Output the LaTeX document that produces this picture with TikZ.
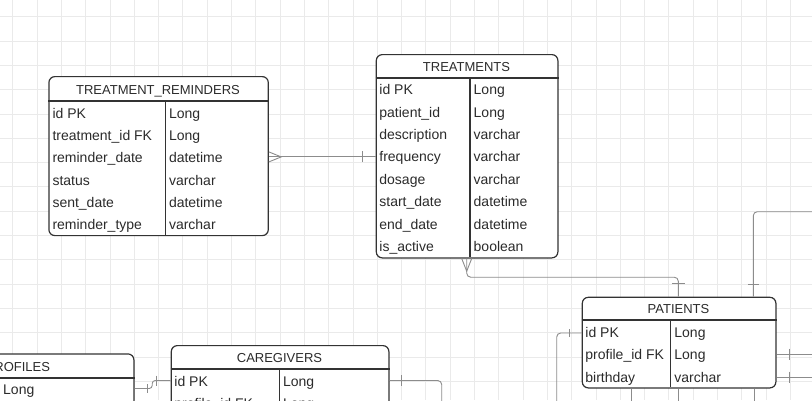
\documentclass[tikz,border=0pt]{standalone}
\usepackage{fontspec}
\setmainfont{Liberation Sans}
\definecolor{tblc}{HTML}{333333}
\definecolor{txtc}{HTML}{2B2B2B}
\definecolor{connc}{HTML}{8C8C8C}
\definecolor{gridc}{HTML}{EAEAEA}
\tikzset{
  tbl/.style={draw=tblc, line width=1.2pt, rounded corners=6pt, fill=white, anchor=north west, inner sep=0pt},
  ttl/.style={anchor=base, font=\fontsize{13}{15}\selectfont, text=txtc, inner sep=0pt},
  fld/.style={anchor=base west, font=\fontsize{14}{16}\selectfont, text=txtc, inner sep=0pt},
  hsep/.style={draw=tblc, line width=1.8pt},
  cdiv/.style={draw=tblc, line width=1.2pt},
  conn/.style={draw=connc, line width=0.9pt},
  gridl/.style={draw=gridc, line width=0.8pt},
}
\begin{document}
\begin{tikzpicture}[x=1pt, y=-1pt]
\useasboundingbox (0,0) rectangle (812,400);
\clip (0,0) rectangle (812,400);
\fill[white] (0,0) rectangle (812,400);
% grid
\foreach \i in {0,...,33} { \draw[gridl] (12.7+24.3*\i,0) -- (12.7+24.3*\i,400); }
\foreach \j in {0,...,16} { \draw[gridl] (0,16.7+24.3*\j) -- (812,16.7+24.3*\j); }

% ---------- TREATMENT_REMINDERS ----------
\node[tbl, minimum width=219.4pt, minimum height=159pt] (tr) at (48.3,76) {};
\draw[hsep] (tr.west |- 0,101) -- (tr.east |- 0,101);
\draw[cdiv] (165.3,101) -- (165.3,235);
\node[ttl] (tr-t) at (158,94.5) {TREATMENT\_REMINDERS};
\node[fld] (tr-n0) at (52.3,118.2) {id PK};
\node[fld] (tr-n1) at (52.3,140.55) {treatment\_id FK};
\node[fld] (tr-n2) at (52.3,162.9) {reminder\_date};
\node[fld] (tr-n3) at (52.3,185.25) {status};
\node[fld] (tr-n4) at (52.3,207.6) {sent\_date};
\node[fld] (tr-n5) at (52.3,229.95) {reminder\_type};
\node[fld] (tr-y0) at (168.8,118.2) {Long};
\node[fld] (tr-y1) at (168.8,140.55) {Long};
\node[fld] (tr-y2) at (168.8,162.9) {datetime};
\node[fld] (tr-y3) at (168.8,185.25) {varchar};
\node[fld] (tr-y4) at (168.8,207.6) {datetime};
\node[fld] (tr-y5) at (168.8,229.95) {varchar};

% ---------- TREATMENTS ----------
\node[tbl, minimum width=181.6pt, minimum height=203.3pt] (trt) at (375.7,54) {};
\draw[hsep] (trt.west |- 0,77.7) -- (trt.east |- 0,77.7);
\draw[cdiv] (470,77.7) -- (470,257.3);
\node[ttl] (trt-t) at (466.5,71.2) {TREATMENTS};
\node[fld] (trt-n0) at (379.2,94.9) {id PK};
\node[fld] (trt-n1) at (379.2,117.25) {patient\_id};
\node[fld] (trt-n2) at (379.2,139.6) {description};
\node[fld] (trt-n3) at (379.2,161.95) {frequency};
\node[fld] (trt-n4) at (379.2,184.3) {dosage};
\node[fld] (trt-n5) at (379.2,206.65) {start\_date};
\node[fld] (trt-n6) at (379.2,229) {end\_date};
\node[fld] (trt-n7) at (379.2,251.35) {is\_active};
\node[fld] (trt-y0) at (473.5,94.9) {Long};
\node[fld] (trt-y1) at (473.5,117.25) {Long};
\node[fld] (trt-y2) at (473.5,139.6) {varchar};
\node[fld] (trt-y3) at (473.5,161.95) {varchar};
\node[fld] (trt-y4) at (473.5,184.3) {varchar};
\node[fld] (trt-y5) at (473.5,206.65) {datetime};
\node[fld] (trt-y6) at (473.5,229) {datetime};
\node[fld] (trt-y7) at (473.5,251.35) {boolean};

% ---------- PATIENTS ----------
\node[tbl, minimum width=193.6pt, minimum height=90.6pt] (pat) at (581.7,296.7) {};
\draw[hsep] (pat.west |- 0,320) -- (pat.east |- 0,320);
\draw[cdiv] (670.7,320) -- (670.7,387.3);
\node[ttl] (pat-t) at (678.5,313.5) {PATIENTS};
\node[fld] (pat-n0) at (585.2,337.4) {id PK};
\node[fld] (pat-n1) at (585.2,359.75) {profile\_id FK};
\node[fld] (pat-n2) at (585.2,382.1) {birthday};
\node[fld] (pat-y0) at (674.2,337.4) {Long};
\node[fld] (pat-y1) at (674.2,359.75) {Long};
\node[fld] (pat-y2) at (674.2,382.1) {varchar};

% ---------- CAREGIVERS ----------
\node[tbl, minimum width=217.6pt, minimum height=200pt] (cg) at (170.7,345) {};
\draw[hsep] (cg.west |- 0,369.3) -- (cg.east |- 0,369.3);
\draw[cdiv] (279.3,369.3) -- (279.3,545);
\node[ttl] (cg-t) at (279.5,362.8) {CAREGIVERS};
\node[fld] (cg-n0) at (174.2,386.3) {id PK};
\node[fld] (cg-n1) at (174.2,408.65) {profile\_id FK};
\node[fld] (cg-y0) at (282.8,386.3) {Long};
\node[fld] (cg-y1) at (282.8,408.65) {Long};

% ---------- PROFILES ----------
\node[tbl, minimum width=230.8pt, minimum height=200pt] (prof) at (-97.5,353.3) {};
\draw[hsep] (prof.west |- 0,377.7) -- (prof.east |- 0,377.7);
\draw[cdiv] (-1,377.7) -- (-1,553.3);
\node[ttl] (prof-t) at (17.9,371.2) {PROFILES};
\node[fld] (prof-y0) at (3,394.9) {Long};

% ---------- connector coordinates ----------
\coordinate (r-tr2) at (0,156.9);
\coordinate (r-pat0) at (0,333);
\coordinate (r-pat1) at (0,354.2);
\coordinate (r-pat2) at (0,377.2);
\coordinate (r-cg0) at (0,380.5);
\coordinate (r-prof0) at (0,388.5);
\coordinate (e3) at (830,211.7);
\coordinate (e4a) at (830,354.2);
\coordinate (e4b) at (830,377.2);
\coordinate (e5) at (556.7,420);
\coordinate (e8) at (441.7,420);

% 1: TREATMENT_REMINDERS >--| TREATMENTS
\coordinate (c1s) at (tr.east |- r-tr2);
\coordinate (c1e) at (trt.west |- r-tr2);
\draw[conn] (c1s) -- (c1e);
\draw[conn] ([yshift=5pt]c1s) -- ([xshift=12.3pt]c1s) -- ([yshift=-5pt]c1s);
\draw[conn] ([xshift=-13pt,yshift=5.5pt]c1e) -- ([xshift=-13pt,yshift=-5.5pt]c1e);

% 2: TREATMENTS >--| PATIENTS
\coordinate (c2s) at ([xshift=91pt]trt.south west);
\coordinate (c2e) at ([xshift=96.6pt]pat.north west);
\draw[conn, rounded corners=4pt] (c2s) -- ++(0,18.7) -| (c2e);
\draw[conn] ([xshift=-5pt]c2s) -- ([yshift=-12.7pt]c2s) -- ([xshift=5pt]c2s);
\draw[conn] ([xshift=-6.5pt,yshift=13.4pt]c2e) -- ([xshift=6.5pt,yshift=13.4pt]c2e);

% 3: PATIENTS top right, going up and out
\coordinate (c3s) at ([xshift=171.6pt]pat.north west);
\draw[conn, rounded corners=4pt] (c3s) |- (e3);
\draw[conn] ([xshift=-5.5pt,yshift=12.7pt]c3s) -- ([xshift=5.5pt,yshift=12.7pt]c3s);

% 4: PATIENTS right side, rows 2 and 3
\coordinate (c4a) at (pat.east |- r-pat1);
\coordinate (c4b) at (pat.east |- r-pat2);
\draw[conn] (c4a) -- (e4a);
\draw[conn] (c4b) -- (e4b);
\draw[conn] ([xshift=13pt,yshift=5.5pt]c4a) -- ([xshift=13pt,yshift=-5.5pt]c4a);
\draw[conn] ([xshift=13pt,yshift=5.5pt]c4b) -- ([xshift=13pt,yshift=-5.5pt]c4b);

% 5: PATIENTS left, id PK
\coordinate (c5s) at (pat.west |- r-pat0);
\draw[conn, rounded corners=4pt] (c5s) -| (e5);
\draw[conn] ([xshift=-12.4pt,yshift=4pt]c5s) -- ([xshift=-12.4pt,yshift=-4pt]c5s);

% 6: PATIENTS bottom, three lines down
\coordinate (c6a) at ([xshift=50pt]pat.south west);
\coordinate (c6b) at ([xshift=96.6pt]pat.south west);
\coordinate (c6c) at ([xshift=172.3pt]pat.south west);
\coordinate (e6a) at ([yshift=-40pt]c6a);
\coordinate (e6b) at ([yshift=-40pt]c6b);
\coordinate (e6c) at ([yshift=-40pt]c6c);
\draw[conn] (c6a) -- (e6a);
\draw[conn] (c6b) -- (e6b);
\draw[conn] (c6c) -- (e6c);

% 7: PROFILES |--| CAREGIVERS
\coordinate (c7s) at (prof.east |- r-prof0);
\coordinate (c7e) at (cg.west |- r-cg0);
\draw[conn, rounded corners=3pt] (c7s) -- ++(17.7,0) |- (c7e);
\draw[conn] ([xshift=13.4pt,yshift=4.5pt]c7s) -- ([xshift=13.4pt,yshift=-4.5pt]c7s);
\draw[conn] ([xshift=-14pt,yshift=5pt]c7e) -- ([xshift=-14pt,yshift=-5pt]c7e);

% 8: CAREGIVERS right, going down
\coordinate (c8s) at (cg.east |- r-cg0);
\draw[conn, rounded corners=4pt] (c8s) -| (e8);
\draw[conn] ([xshift=12.4pt,yshift=5.5pt]c8s) -- ([xshift=12.4pt,yshift=-5.5pt]c8s);
\end{tikzpicture}
\end{document}
